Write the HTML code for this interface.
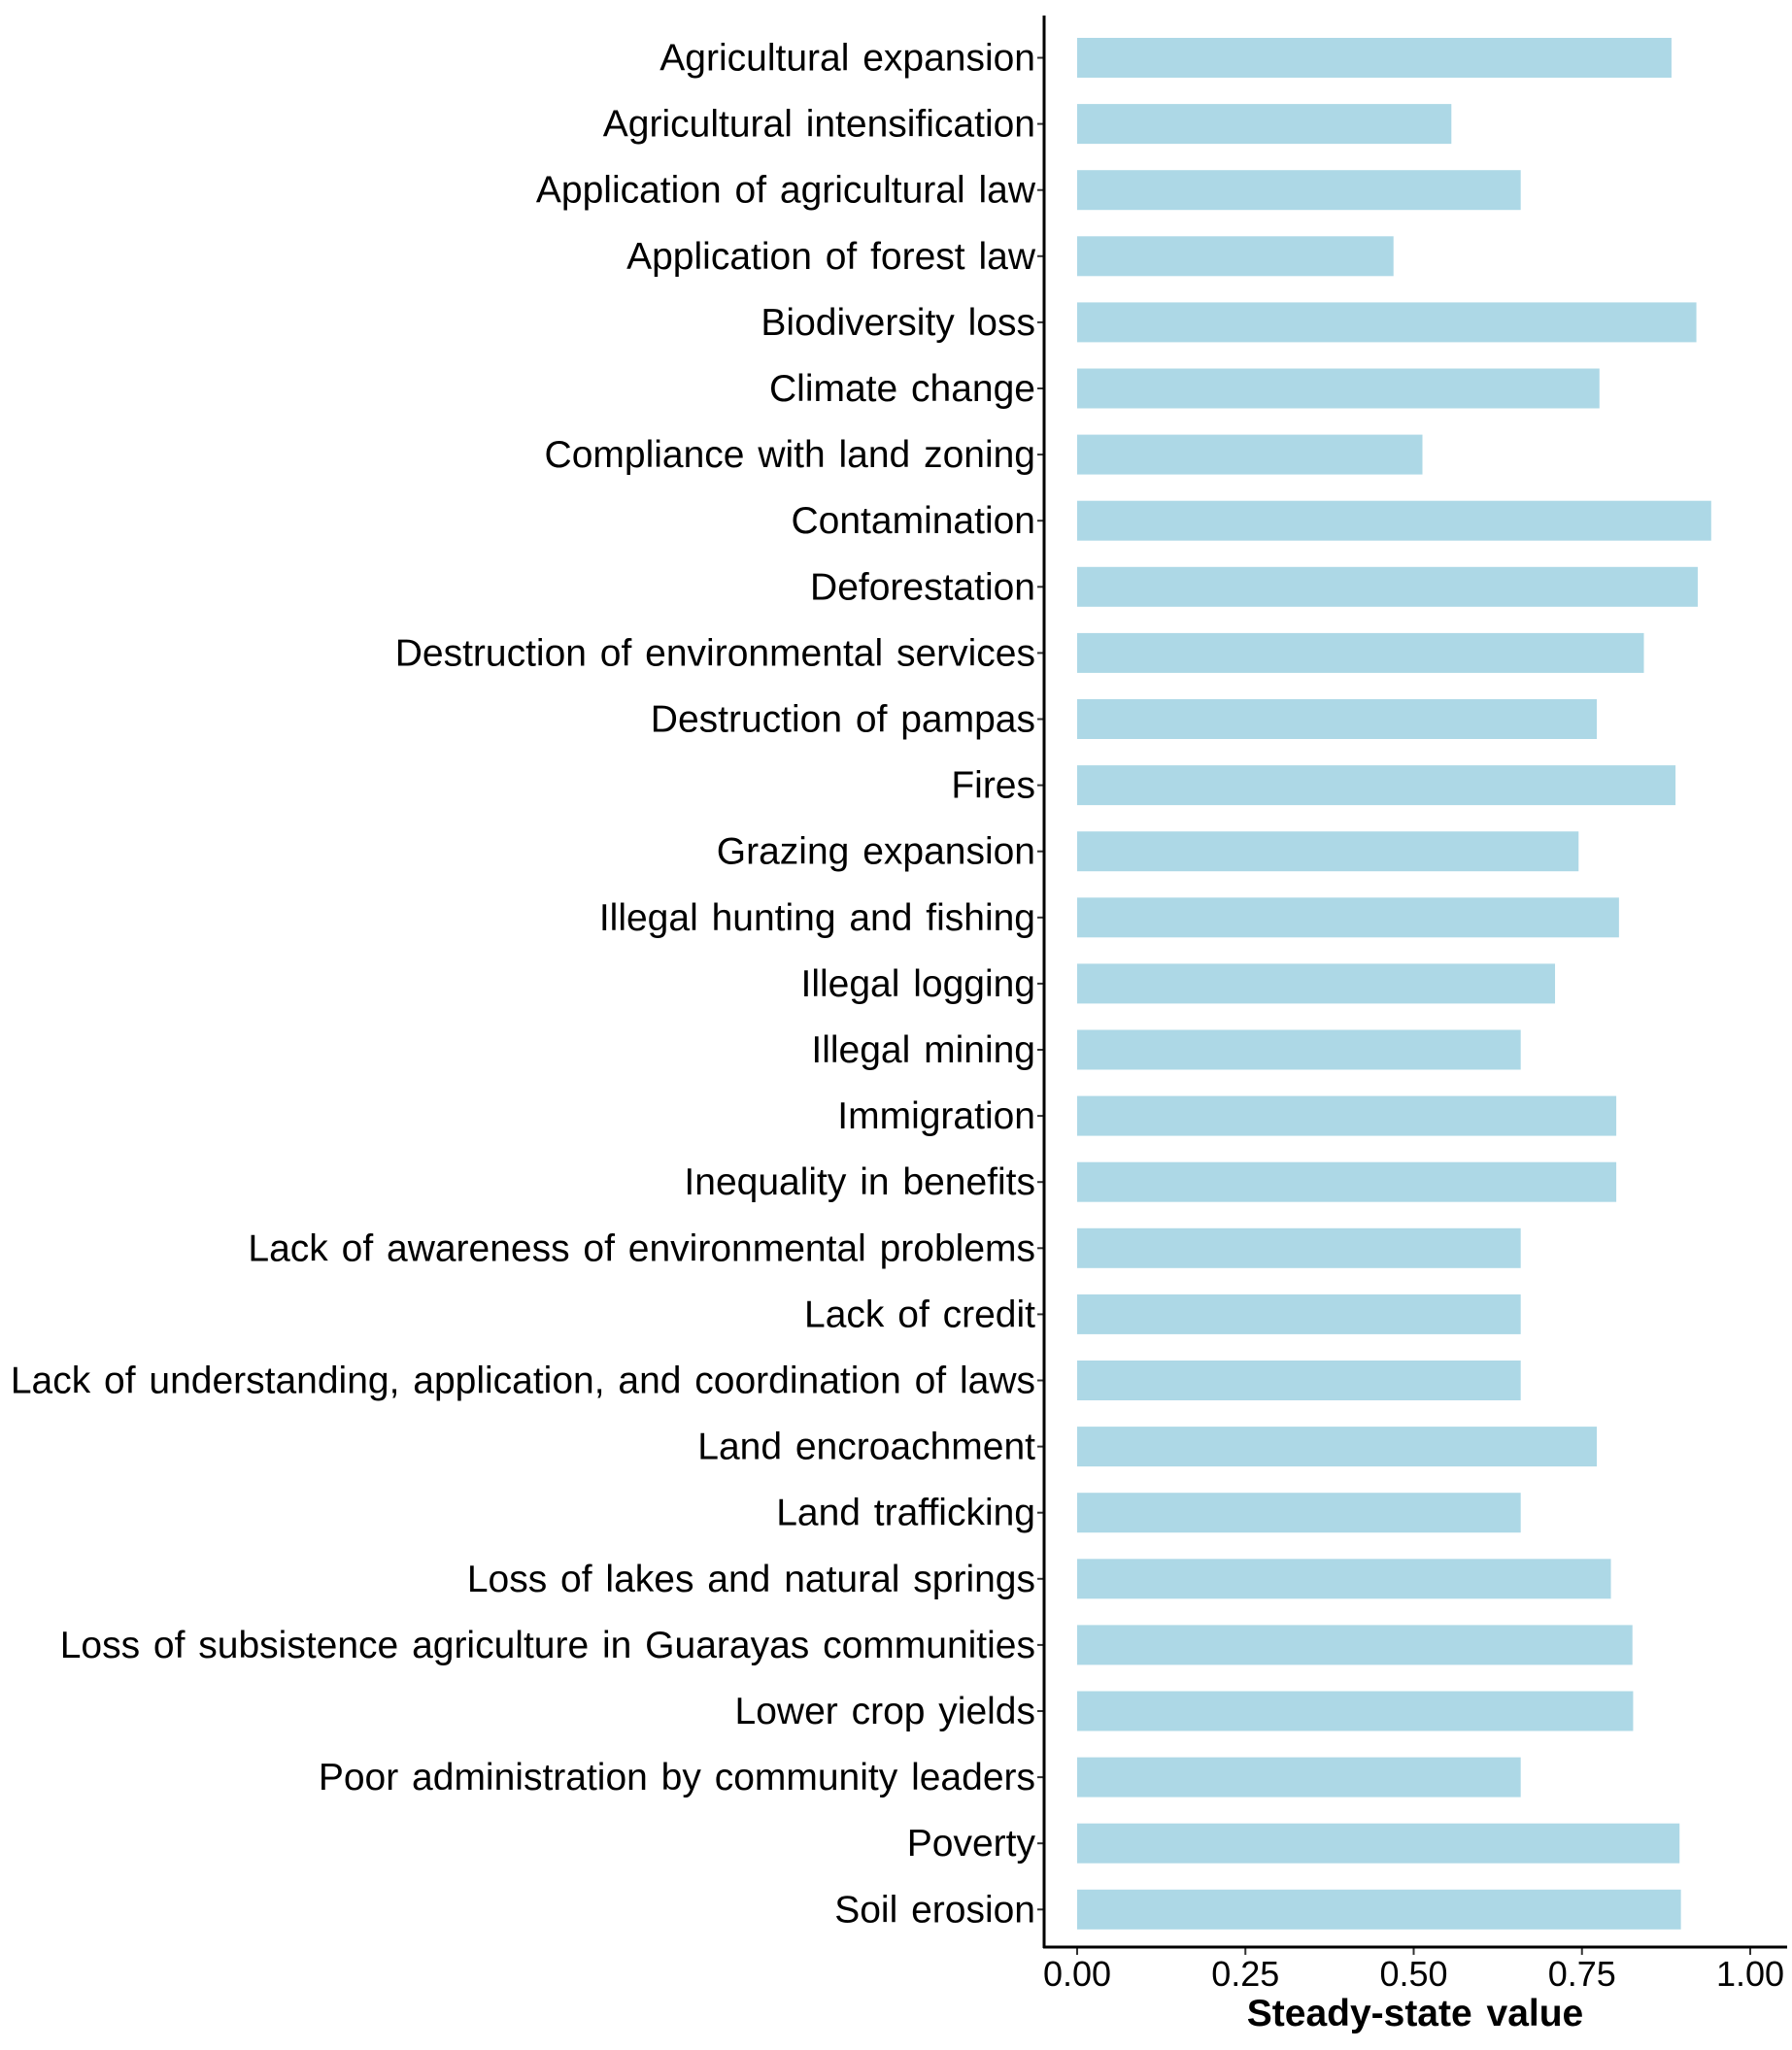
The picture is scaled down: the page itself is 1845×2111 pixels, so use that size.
<!DOCTYPE html>
<html><head><meta charset="utf-8"><style>
html,body{margin:0;padding:0;background:#fff}
svg{display:block}
text{font-family:"Liberation Sans",Arial,sans-serif;fill:#000}
</style></head><body>
<svg id="chart" width="1845" height="2111" viewBox="0 0 1845 2111">
<g id="bars"></g>
<g id="ylabels"></g>
<g id="xaxis"></g>
<line x1="1075" y1="16" x2="1075" y2="2006" stroke="#000" stroke-width="3"/>
<line x1="1074" y1="2005" x2="1840" y2="2005" stroke="#000" stroke-width="3"/>
<text x="1457" y="2086" font-size="39" font-weight="bold" text-anchor="middle" word-spacing="4">Steady-state value</text>
</svg>
<script>
const categories = ["Agricultural expansion","Agricultural intensification","Application of agricultural law","Application of forest law","Biodiversity loss","Climate change","Compliance with land zoning","Contamination","Deforestation","Destruction of environmental services","Destruction of pampas","Fires","Grazing expansion","Illegal hunting and fishing","Illegal logging","Illegal mining","Immigration","Inequality in benefits","Lack of awareness of environmental problems","Lack of credit","Lack of understanding, application, and coordination of laws","Land encroachment","Land trafficking","Loss of lakes and natural springs","Loss of subsistence agriculture in Guarayas communities","Lower crop yields","Poor administration by community leaders","Poverty","Soil erosion"];
const values = [0.883,0.556,0.659,0.470,0.920,0.776,0.513,0.942,0.922,0.842,0.772,0.889,0.745,0.805,0.710,0.659,0.801,0.801,0.659,0.659,0.659,0.772,0.659,0.793,0.825,0.826,0.659,0.895,0.897];
const xTicks = [0,0.25,0.5,0.75,1];
const xTickLabels = ["0.00","0.25","0.50","0.75","1.00"];

const NS = "http://www.w3.org/2000/svg";
const x0 = 1109, x1 = 1802;
function xScale(v){ return x0 + v*(x1-x0); }
const yTop = 59.5, step = 68.1;
function yScale(i){ return yTop + i*step; }
const bh = 41;
const bars = document.getElementById('bars');
const yl = document.getElementById('ylabels');
const xa = document.getElementById('xaxis');
categories.forEach((c,i)=>{
  const r = document.createElementNS(NS,'rect');
  r.setAttribute('x', xScale(0));
  r.setAttribute('y', yScale(i)-bh/2);
  r.setAttribute('width', xScale(values[i])-xScale(0));
  r.setAttribute('height', bh);
  r.setAttribute('fill', '#add8e6');
  
  
  bars.appendChild(r);
  const t = document.createElementNS(NS,'text');
  t.setAttribute('x', 1066);
  t.setAttribute('y', yScale(i)+13);
  t.setAttribute('font-size', '39');
  t.setAttribute('word-spacing', '3');
  t.setAttribute('text-anchor', 'end');
  t.textContent = c;
  
  
  yl.appendChild(t);
  const tk = document.createElementNS(NS,'line');
  tk.setAttribute('x1', 1068); tk.setAttribute('x2', 1075);
  tk.setAttribute('y1', yScale(i)); tk.setAttribute('y2', yScale(i));
  tk.setAttribute('stroke', '#333'); tk.setAttribute('stroke-width', '2');
  
  
  yl.appendChild(tk);
});
xTicks.forEach((v,i)=>{
  const tk = document.createElementNS(NS,'line');
  tk.setAttribute('x1', xScale(v)); tk.setAttribute('x2', xScale(v));
  tk.setAttribute('y1', 2005); tk.setAttribute('y2', 2013);
  tk.setAttribute('stroke', '#333'); tk.setAttribute('stroke-width', '2');
  
  
  xa.appendChild(tk);
  const t = document.createElementNS(NS,'text');
  t.setAttribute('x', xScale(v));
  t.setAttribute('y', 2045);
  t.setAttribute('font-size', '36');
  t.setAttribute('text-anchor', 'middle');
  t.textContent = xTickLabels[i];
  
  
  xa.appendChild(t);
});
</script>
</body></html>
